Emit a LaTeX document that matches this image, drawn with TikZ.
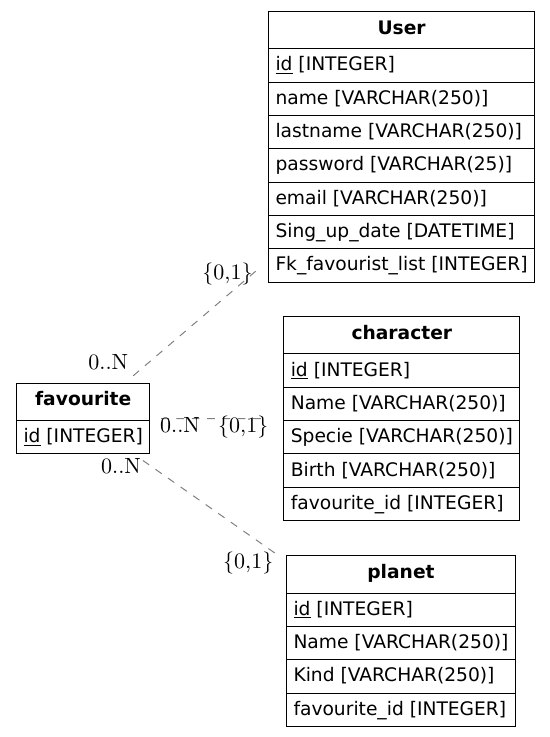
\documentclass[tikz,border=0pt]{standalone}
\usepackage{fontspec}
\usepackage{xcolor}
\usepackage{tikz}
\usetikzlibrary{shapes.multipart}
\newfontfamily\tblfont{DejaVu Sans}
\definecolor{edgegray}{HTML}{808080}
\newcommand{\tblhead}[1]{\rule[-10.6pt]{0pt}{27.25pt}\textbf{#1}}
\newcommand{\tblrow}[1]{\rule[-8pt]{0pt}{24.25pt}#1}

\tikzset{
  entity/.style={draw=black, line width=0.75pt, rectangle split,
    rectangle split parts=#1, rectangle split part align={center,left},
    inner xsep=5.25pt, inner ysep=0pt, anchor=north west,
    font=\tblfont\fontsize{14}{16}\selectfont},
  rel/.style={draw=edgegray, line width=0.75pt,
    dash pattern=on 5.75pt off 5.75pt, shorten <=8pt, shorten >=10pt},
  card/.style={inner sep=0pt, anchor=base, scale=1.65, font=\fontsize{10}{12}\selectfont}
}

\begin{document}
\begin{tikzpicture}[x=0.75pt, y=-0.75pt]
      \useasboundingbox (0,0) rectangle (549,737);

      % tables
      \node[entity=8] (user) at (268,11) {\tblhead{User}
        \nodepart{two}\tblrow{\underline{id} [INTEGER]}
        \nodepart{three}\tblrow{name [VARCHAR(250)]}
        \nodepart{four}\tblrow{lastname [VARCHAR(250)]}
        \nodepart{five}\tblrow{password [VARCHAR(25)]}
        \nodepart{six}\tblrow{email [VARCHAR(250)]}
        \nodepart{seven}\tblrow{Sing\_up\_date [DATETIME]}
        \nodepart{eight}\tblrow{Fk\_favourist\_list [INTEGER]}};
      \node[entity=6] (character) at (283.3,316) {\tblhead{character}
        \nodepart{two}\tblrow{\underline{id} [INTEGER]}
        \nodepart{three}\tblrow{Name [VARCHAR(250)]}
        \nodepart{four}\tblrow{Specie [VARCHAR(250)]}
        \nodepart{five}\tblrow{Birth [VARCHAR(250)]}
        \nodepart{six}\tblrow{favourite\_id [INTEGER]}};
      \node[entity=2] (favourite) at (16,382.7) {\tblhead{favourite}
        \nodepart{two}\tblrow{\underline{id} [INTEGER]}};
      \node[entity=5] (planet) at (286,555.3) {\tblhead{planet}
        \nodepart{two}\tblrow{\underline{id} [INTEGER]}
        \nodepart{three}\tblrow{Name [VARCHAR(250)]}
        \nodepart{four}\tblrow{Kind [VARCHAR(250)]}
        \nodepart{five}\tblrow{favourite\_id [INTEGER]}};

      % relations
      \draw[rel] (favourite) -- (user);
      \draw[rel, shorten >=13.5pt] (favourite) -- (character);
      \draw[rel] (favourite) -- (planet);

      % cardinalities
      \node[card] (favUserMany) at (108.3,369) {0..N};
      \node[card] (favUserOne) at (227.5,280) {\{0,1\}};
      \node[card] (favCharMany) at (180,432.7) {0..N};
      \node[card] (favCharOne) at (243.3,432.7) {\{0,1\}};
      \node[card] (favPlanetMany) at (121,473.3) {0..N};
      \node[card] (favPlanetOne) at (248.3,568) {\{0,1\}};
    \end{tikzpicture}
\end{document}
